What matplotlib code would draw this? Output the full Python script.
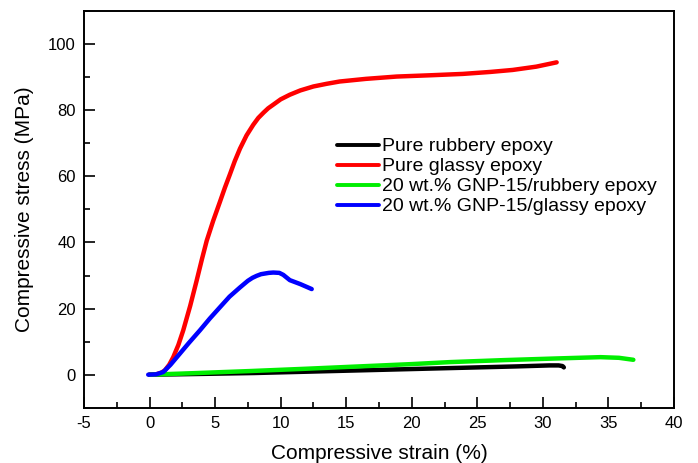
import matplotlib
matplotlib.use('Agg')
import matplotlib.pyplot as plt
from matplotlib.ticker import MultipleLocator

plt.rcParams['font.family'] = ['Liberation Sans', 'DejaVu Sans']
plt.rcParams['axes.unicode_minus'] = False

# stress-strain data (strain %, stress MPa)
rubbery_x = [0, 2, 5, 8, 11, 14, 17, 20, 23, 26, 28, 30.5, 31.2, 31.5, 31.6]
rubbery_y = [0, 0.1, 0.3, 0.5, 0.8, 1.1, 1.4, 1.7, 2.0, 2.3, 2.5, 2.8, 2.8, 2.6, 2.2]

glassy_x = [0, 0.5, 0.9, 1.17, 1.5, 1.81, 2.2, 2.57, 3.1, 3.59, 4.0, 4.36, 4.85, 5.37,
            5.75, 6.13, 6.5, 6.9, 7.4, 7.91, 8.3, 8.7, 9.05, 9.44, 10.0, 10.7, 11.5,
            12.5, 13.5, 14.5, 16.5, 18.85, 21.5, 23.9, 26, 27.7, 29.5, 31.05]
glassy_y = [0, 0.1, 0.6, 1.3, 3.0, 5.3, 9.0, 13.4, 20.8, 28.4, 35.0, 40.5, 46.5, 52.3,
            56.6, 60.6, 64.6, 68.4, 72.4, 75.6, 77.7, 79.3, 80.6, 81.7, 83.3, 84.7, 86.0,
            87.2, 88.0, 88.7, 89.5, 90.2, 90.6, 91.0, 91.6, 92.2, 93.2, 94.5]

gnp_rub_x = [0, 3, 7.7, 12, 16, 20, 22.9, 27, 31, 34.4, 35.8, 36.9]
gnp_rub_y = [0, 0.4, 1.1, 1.8, 2.5, 3.2, 3.8, 4.4, 4.9, 5.3, 5.1, 4.5]

gnp_gla_x = [-0.1, 0.5, 1.05, 1.6, 2.3, 3.0, 3.84, 4.6, 5.37, 6.1, 6.9, 7.5, 7.85,
             8.17, 8.5, 8.8, 9.1, 9.44, 9.9, 10.2, 10.7, 11.5, 12.37]
gnp_gla_y = [0, 0.1, 0.8, 3.0, 6.3, 9.6, 13.4, 17.0, 20.4, 23.6, 26.4, 28.4, 29.3,
             29.9, 30.4, 30.6, 30.8, 30.9, 30.8, 30.2, 28.6, 27.4, 25.9]

labels = ['Pure rubbery epoxy', 'Pure glassy epoxy',
          '20 wt.% GNP-15/rubbery epoxy', '20 wt.% GNP-15/glassy epoxy']

fig = plt.figure(figsize=(6.98, 4.63), dpi=100)
ax = fig.add_axes([0.1203, 0.1194, 0.8453, 0.8566])

lw = 3.2
ax.plot(rubbery_x, rubbery_y, color='black', lw=lw, label=labels[0], solid_capstyle='round')
ax.plot(glassy_x, glassy_y, color='#ff0000', lw=lw, label=labels[1], solid_capstyle='round')
ax.plot(gnp_rub_x, gnp_rub_y, color='#00ee00', lw=lw, label=labels[2], solid_capstyle='round')
ax.plot(gnp_gla_x, gnp_gla_y, color='#0000ff', lw=lw, label=labels[3], solid_capstyle='round')

ax.set_xlim(-5, 40)
ax.set_ylim(-10, 110)
ax.xaxis.set_major_locator(MultipleLocator(5))
ax.xaxis.set_minor_locator(MultipleLocator(2.5))
ax.yaxis.set_major_locator(MultipleLocator(20))
ax.yaxis.set_minor_locator(MultipleLocator(10))
ax.tick_params(which='both', direction='in', top=False, right=False, width=1.2, labelsize=12)
ax.tick_params(which='major', length=8, pad=6)
ax.tick_params(which='minor', length=4)
for s in ax.spines.values():
    s.set_linewidth(1.4)

ax.set_xlabel('Compressive strain (%)', fontsize=15, labelpad=9)
ax.set_ylabel('Compressive stress (MPa)', fontsize=15, labelpad=10)

leg = ax.legend(loc='upper left', bbox_to_anchor=(0.415, 0.70), frameon=False,
                fontsize=14, handlelength=2.2, handletextpad=0.15, labelspacing=0.12,
                borderaxespad=0)
for line in leg.get_lines():
    line.set_linewidth(2.8)

fig.savefig('out.png', dpi=100)
